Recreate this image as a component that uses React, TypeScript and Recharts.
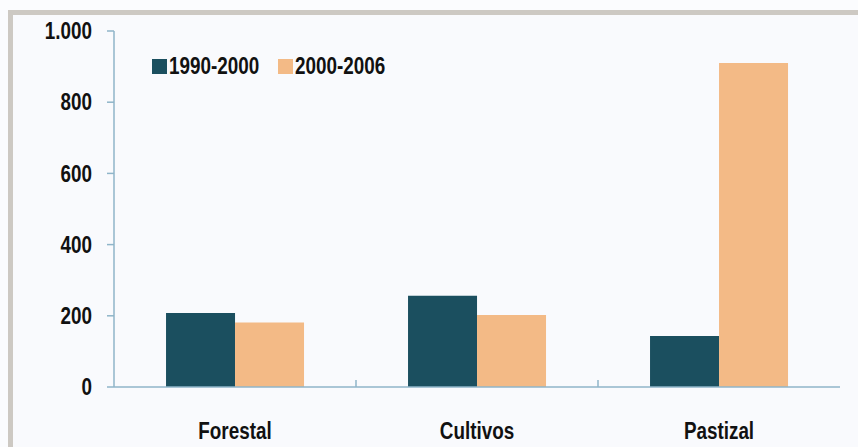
import { BarChart, Bar, XAxis, YAxis } from 'recharts';

// Superficie transformada por tipo de cobertura
const categories = ['Forestal', 'Cultivos', 'Pastizal'];
const periodo1990 = [208, 256, 143];
const periodo2000 = [181, 202, 910];
const yTicks = [0, 200, 400, 600, 800, 1000];

const SERIES = [
    { key: 'p1990', name: '1990-2000', color: '#1b4f5f' },
    { key: 'p2000', name: '2000-2006', color: '#f3ba86' },
];

const AXIS_COLOR = '#8fb5c9';
const FONT = "'Liberation Sans', Arial, sans-serif";
const NARROW = 0.82; // squeeze Liberation Sans into a narrow face

const data = categories.map((name, i) => ({
    name,
    p1990: periodo1990[i],
    p2000: periodo2000[i],
}));

const formatY = (v: number) => (v >= 1000 ? `${Math.floor(v / 1000)}.${String(v % 1000).padStart(3, '0')}` : `${v}`);

function NarrowText({ x, y, anchor, dy, size, children }: any) {
    return (
        <text
            x={0}
            y={0}
            dy={dy}
            textAnchor={anchor}
            transform={`translate(${x},${y}) scale(${NARROW},1)`}
            fontFamily={FONT}
            fontWeight="bold"
            fontSize={size}
            fill="#111"
        >
            {children}
        </text>
    );
}

// Category label plus a short divider tick on the right edge of every band but the last
function CategoryTick(props: any) {
    const { x, y, payload, index } = props;
    const half = payload.offset ?? 121;
    const axisY = y - 36;
    return (
        <g>
            {index < categories.length - 1 && (
                <line x1={x + half} x2={x + half} y1={axisY} y2={axisY - 7} stroke={AXIS_COLOR} strokeWidth={1.5} />
            )}
            <NarrowText x={x} y={y} anchor="middle" dy="0.71em" size={23}>
                {payload.value}
            </NarrowText>
        </g>
    );
}

function ValueTick(props: any) {
    const { x, y, payload } = props;
    return (
        <NarrowText x={x} y={y} anchor="end" dy="0.36em" size={23}>
            {formatY(payload.value)}
        </NarrowText>
    );
}

// Legend drawn as an overlay so it does not push the plot area down
function SeriesLegend() {
    return (
        <div
            style={{
                position: 'absolute',
                left: 152,
                top: 52,
                display: 'flex',
                alignItems: 'center',
                fontFamily: FONT,
                fontWeight: 'bold',
                fontSize: 23,
                lineHeight: '28px',
                color: '#111',
                whiteSpace: 'nowrap',
            }}
        >
            {SERIES.map((s, i) => (
                <div key={s.key} style={{ display: 'flex', alignItems: 'center', marginRight: i === 0 ? 18 : 0 }}>
                    <span style={{ display: 'inline-block', width: 15, height: 15, background: s.color, marginRight: 2 }} />
                    <span style={{ display: 'inline-block', width: 91 }}>
                        <span style={{ display: 'inline-block', transform: `scaleX(${NARROW})`, transformOrigin: 'left center' }}>{s.name}</span>
                    </span>
                </div>
            ))}
        </div>
    );
}

export default function App() {
    return (
        <div style={{ position: 'absolute', left: 0, top: 0, width: 858, height: 447, background: '#fbfcfe', overflow: 'hidden' }}>
            <div
                style={{
                    position: 'absolute',
                    left: 8,
                    top: 10,
                    width: 900,
                    height: 500,
                    borderTop: '5px solid #cdc9c3',
                    borderLeft: '5px solid #cdc9c3',
                    background: '#f9fafd',
                }}
            />
            <div style={{ position: 'absolute', left: 0, top: 0 }}>
                <BarChart width={858} height={447} data={data} margin={{ top: 31, right: 18, bottom: 0, left: 0 }} barCategoryGap="21.5%" barGap={0}>
                    <XAxis
                        dataKey="name"
                        height={60}
                        axisLine={{ stroke: AXIS_COLOR, strokeWidth: 1.5 }}
                        tickLine={false}
                        tickSize={0}
                        tick={<CategoryTick />}
                        tickMargin={36}
                        interval={0}
                    />
                    <YAxis
                        width={114}
                        domain={[0, 1000]}
                        ticks={yTicks}
                        interval={0}
                        axisLine={{ stroke: AXIS_COLOR, strokeWidth: 1.5 }}
                        tickLine={{ stroke: AXIS_COLOR, strokeWidth: 1.5 }}
                        tickSize={7}
                        tickMargin={15}
                        tick={<ValueTick />}
                    />
                    {SERIES.map((s) => (
                        <Bar key={s.key} dataKey={s.key} name={s.name} fill={s.color} isAnimationActive={false} />
                    ))}
                </BarChart>
            </div>
            <SeriesLegend />
        </div>
    );
}
